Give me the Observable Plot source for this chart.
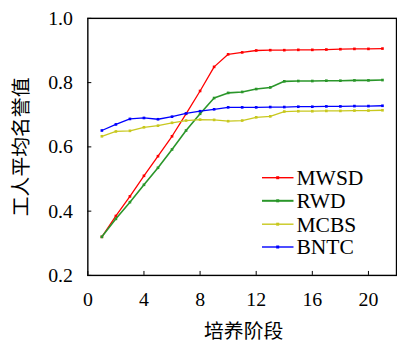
<!DOCTYPE html>
<html>
<head>
<meta charset="utf-8">
<script src="https://cdn.jsdelivr.net/npm/d3@7"></script>
<script src="https://cdn.jsdelivr.net/npm/@observablehq/plot@0.6"></script>
<style>
  html, body { margin: 0; padding: 0; overflow: hidden; background: white; }
  #wrap { position: relative; width: 397px; height: 347px; overflow: hidden; }
  #legend { position: absolute; left: 0; top: 0; pointer-events: none; }
</style>
</head>
<body>
<div id="wrap"></div>
<script>
const stages = [1,2,3,4,5,6,7,8,9,10,11,12,13,14,15,16,17,18,19,20,21];
const MWSD = [0.320,0.385,0.446,0.510,0.571,0.633,0.703,0.774,0.849,0.888,0.894,0.900,0.901,0.901,0.902,0.902,0.903,0.904,0.905,0.905,0.906];
const RWD  = [0.320,0.376,0.428,0.482,0.535,0.592,0.651,0.703,0.752,0.768,0.771,0.780,0.785,0.804,0.805,0.805,0.806,0.806,0.807,0.807,0.808];
const MCBS = [0.633,0.648,0.650,0.661,0.666,0.675,0.682,0.685,0.684,0.680,0.682,0.692,0.695,0.710,0.711,0.711,0.712,0.712,0.713,0.713,0.714];
const BNTC = [0.651,0.670,0.687,0.690,0.686,0.694,0.704,0.711,0.717,0.723,0.723,0.723,0.724,0.724,0.725,0.725,0.726,0.726,0.727,0.727,0.728];
const seriesNames = ["MWSD","RWD","MCBS","BNTC"];
const seriesValues = [MWSD, RWD, MCBS, BNTC];
const seriesColors = ["#ff0000","#2a962a","#c8c81e","#0000ff"];
const xTicks = [0,4,8,12,16,20];
const yTicks = [0.2,0.4,0.6,0.8,1.0];
const xLabel = "培养阶段";
const yLabel = "工人平均名誉值";

const rows = [];
seriesNames.forEach((s, k) => stages.forEach((x, i) => rows.push({series: s, x, y: seriesValues[k][i]})));

const W = 400, H = 347, mL = 88, mR = 1, mT = 18, mB = 70;
const innerW = W - mL - mR, innerH = H - mT - mB;
const serif = "'Liberation Serif', 'DejaVu Serif', serif";
const cjk = "'Noto Sans CJK SC', sans-serif";

const marks = [
  Plot.axisX({ticks: xTicks, tickSize: 0, tickPadding: 17, fontFamily: serif, fontSize: 20}),
  Plot.axisY({ticks: yTicks, tickSize: 0, tickPadding: 15, tickFormat: d3.format(".1f"), fontFamily: serif, fontSize: 20}),
  Plot.tickY(yTicks, {y: d => d, insetRight: innerW - 4, stroke: "black", strokeWidth: 1}),
  Plot.tickX(xTicks, {x: d => d, insetTop: innerH - 4, stroke: "black", strokeWidth: 1})
];
seriesNames.forEach((s, k) => {
  const d = rows.filter(r => r.series === s);
  marks.push(Plot.line(d, {x: "x", y: "y", stroke: seriesColors[k], strokeWidth: k === 1 ? 1.6 : 1.3}));
  marks.push(Plot.dot(d, {x: "x", y: "y", fill: seriesColors[k], r: 1.5, symbol: "square"}));
});
marks.push(Plot.frame({stroke: "black", strokeWidth: 1.4}));
marks.push(Plot.text([yLabel], {text: d => d, frameAnchor: "left", textAnchor: "middle", lineAnchor: "middle", dx: -67, rotate: -90, fontFamily: cjk, fontSize: 20, fill: "black"}));
marks.push(Plot.text([xLabel], {text: d => d, frameAnchor: "bottom", textAnchor: "middle", lineAnchor: "middle", dy: 57, dx: 1.5, fontFamily: cjk, fontSize: 20, fill: "black"}));

const chart = Plot.plot({
  width: W, height: H,
  marginLeft: mL, marginRight: mR, marginTop: mT, marginBottom: mB,
  style: {fontFamily: serif, fontSize: "20px", background: "white", color: "black"},
  x: {domain: [0, 22], label: null},
  y: {domain: [0.2, 1.0], label: null},
  marks
});
document.getElementById("wrap").appendChild(chart);

// legend overlay
const leg = d3.select("#wrap").append("svg").attr("id", "legend").attr("width", 397).attr("height", 347);
const legY = [177.7, 200.8, 224.2, 247];
seriesNames.forEach((s, k) => {
  const g = leg.append("g").attr("transform", `translate(0,${legY[k]})`);
  g.append("line").attr("x1", 262).attr("x2", 293.5).attr("y1", 0).attr("y2", 0)
    .attr("stroke", seriesColors[k]).attr("stroke-width", k === 1 ? 2 : 1.4);
  g.append("rect").attr("x", 276.2).attr("y", -1.5).attr("width", 3).attr("height", 3).attr("fill", seriesColors[k]);
  g.append("text").attr("x", 296.5).attr("y", 0).attr("dy", "0.34em")
    .attr("font-family", serif).attr("font-size", 21.5).attr("fill", "black").text(s);
});
</script>
</body>
</html>
